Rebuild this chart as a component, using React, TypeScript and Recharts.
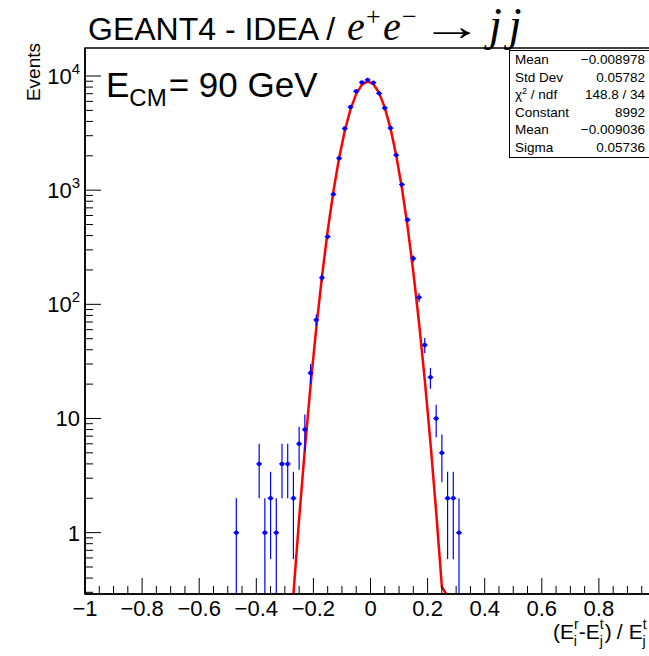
import { ComposedChart, Line, Scatter, ErrorBar, XAxis, YAxis, ReferenceArea } from 'recharts';

// histogram bins (centre, entries)
const binCenters = [
  -0.47, -0.39, -0.37, -0.35, -0.33, -0.31, -0.29, -0.27, -0.25, -0.23,
  -0.21, -0.19, -0.17, -0.15, -0.13, -0.11, -0.09, -0.07, -0.05, -0.03,
  -0.01, 0.01, 0.03, 0.05, 0.07, 0.09, 0.11, 0.13, 0.15, 0.17,
  0.19, 0.21, 0.23, 0.25, 0.27, 0.29, 0.31,
];
const counts = [
  1, 4, 1, 2, 1, 4, 4, 2, 6, 8,
  25, 73, 171, 392, 920, 1905, 3470, 5350, 7350, 8800,
  9250, 8750, 7050, 5250, 3500, 2030, 1120, 550, 252, 115,
  44, 23, 10, 5, 2, 2, 1,
];
const binHalfWidth = 0.01;

// gaussian fit curve, sampled along the red line
const fitX = [
  -0.29, -0.27, -0.25, -0.23, -0.21, -0.19, -0.17, -0.15, -0.13, -0.11,
  -0.09, -0.07, -0.05, -0.03, -0.01, 0.01, 0.03, 0.05, 0.07, 0.09,
  0.11, 0.13, 0.15, 0.17, 0.19, 0.21, 0.23, 0.25, 0.265,
];
const fitY = [
  0.055, 0.288, 1.32, 5.39, 19.4, 62.0, 175, 439, 973, 1910,
  3320, 5112, 6968, 8411, 8991, 8510, 7133, 5295, 3480, 2026,
  1044, 476, 192, 68.9, 21.9, 6.13, 1.52, 0.335, 0.29,
];

const xMajor = [-1, -0.8, -0.6, -0.4, -0.2, 0, 0.2, 0.4, 0.6, 0.8, 1];
// the label of 1 falls outside the canvas
const xLabels = ['\u22121', '\u22120.8', '\u22120.6', '\u22120.4', '\u22120.2', '0', '0.2', '0.4', '0.6', '0.8', ''];
const xMinor = [
  -0.95, -0.9, -0.85, -0.75, -0.7, -0.65, -0.55, -0.5, -0.45, -0.35, -0.3, -0.25,
  -0.15, -0.1, -0.05, 0.05, 0.1, 0.15, 0.25, 0.3, 0.35, 0.45, 0.5, 0.55,
  0.65, 0.7, 0.75, 0.85, 0.9, 0.95,
];
const yMajor = [1, 10, 100, 1000, 10000];
const yLabels = [['1', ''], ['10', ''], ['10', '2'], ['10', '3'], ['10', '4']];
const yMinor = [
  0.3, 0.4, 0.5, 0.6, 0.7, 0.8, 0.9,
  2, 3, 4, 5, 6, 7, 8, 9,
  20, 30, 40, 50, 60, 70, 80, 90,
  200, 300, 400, 500, 600, 700, 800, 900,
  2000, 3000, 4000, 5000, 6000, 7000, 8000, 9000,
];
const yDomain = [0.29, 17600];

const statsRows = [
  ['Mean', '\u22120.008978'],
  ['Std Dev', '0.05782'],
  ['chi', '148.8 / 34'],
  ['Constant', '8992'],
  ['Mean', '\u22120.009036'],
  ['Sigma', '0.05736'],
];

const FONT = '"Liberation Sans", Arial, Helvetica, sans-serif';
const SERIF = '"Liberation Serif", "Times New Roman", serif';
const BLUE = '#0000ff';

const points = binCenters.map((x, i) => {
  const n = counts[i];
  const e = Math.sqrt(n);
  return { x, y: n, ey: [Math.min(e, n - yDomain[0]), e], ex: binHalfWidth };
});
const fit = fitX.map((x, i) => ({ x, y: fitY[i] }));

function XTick(props: any) {
  const { x, y, payload } = props;
  const idx = xMajor.findIndex(m => Math.abs(m - payload.value) < 1e-9);
  const major = idx >= 0;
  return (
    <g>
      <line x1={x} x2={x} y1={y} y2={y - (major ? 16 : 8)} stroke="#000" strokeWidth={1} />
      {major && xLabels[idx] && (
        <text x={x} y={y + 22} textAnchor="middle" fontSize={22} fontFamily={FONT} fill="#000">
          {xLabels[idx]}
        </text>
      )}
    </g>
  );
}

function YTick(props: any) {
  const { x, y, payload } = props;
  const idx = yMajor.findIndex(m => Math.abs(m - payload.value) < 1e-9);
  const major = idx >= 0;
  return (
    <g>
      <line x1={x} x2={x + (major ? 16 : 8)} y1={y} y2={y} stroke="#000" strokeWidth={1} />
      {major && (
        <text x={x - 5} y={y + 8} textAnchor="end" fontSize={22} fontFamily={FONT} fill="#000">
          <tspan>{yLabels[idx][0]}</tspan>
          {yLabels[idx][1] && (
            <tspan dy={-10} fontSize={15}>{yLabels[idx][1]}</tspan>
          )}
        </text>
      )}
    </g>
  );
}

function Marker(props: any) {
  const { cx, cy } = props;
  return <circle cx={cx} cy={cy} r={2.2} fill={BLUE} />;
}

export default function App() {
  return (
    <div style={{ position: 'absolute', left: 0, top: 0, width: 649, height: 656, overflow: 'hidden', background: '#fff' }}>
      <ComposedChart
        width={661}
        height={656}
        margin={{ top: 48, right: 5, bottom: 32, left: 25 }}
      >
        <XAxis
          dataKey="x"
          type="number"
          domain={[-1, 1]}
          allowDataOverflow
          ticks={[...xMajor, ...xMinor].sort((a, b) => a - b)}
          interval={0}
          tick={<XTick />}
          tickLine={false}
          tickSize={0}
          tickMargin={0}
          axisLine={{ stroke: '#000', strokeWidth: 1.5 }}
          height={30}
        />
        <YAxis
          type="number"
          scale="log"
          domain={yDomain}
          allowDataOverflow
          ticks={[...yMinor, ...yMajor].sort((a, b) => a - b)}
          interval={0}
          tick={<YTick />}
          tickLine={false}
          tickSize={0}
          tickMargin={0}
          axisLine={{ stroke: '#000', strokeWidth: 1.5 }}
          width={60}
        />
        <ReferenceArea x1={-1} x2={1} y1={yDomain[0]} y2={yDomain[1]} fill="none" stroke="#000" strokeWidth={1.5} fillOpacity={0} ifOverflow="visible" />
        <Line
          data={fit}
          dataKey="y"
          type="linear"
          stroke="#ff0000"
          strokeWidth={2.5}
          dot={false}
          isAnimationActive={false}
        />
        <Scatter data={points} dataKey="y" shape={<Marker />} isAnimationActive={false}>
          <ErrorBar dataKey="ey" direction="y" width={0} stroke={BLUE} strokeWidth={1.2} isAnimationActive={false} />
          <ErrorBar dataKey="ex" direction="x" width={0} stroke={BLUE} strokeWidth={1.2} isAnimationActive={false} />
        </Scatter>
      </ComposedChart>

      <svg width={649} height={656} style={{ position: 'absolute', left: 0, top: 0, pointerEvents: 'none' }}>
        {/* title */}
        <text x={88} y={40} fontSize={32} fontFamily={FONT} fill="#000">
          GEANT4 - IDEA /
        </text>
        <text y={40} fontFamily={SERIF} fill="#000">
          <tspan x={347} fontStyle="italic" fontSize={40}>e</tspan>
          <tspan x={366} dy={-15} fontSize={26}>+</tspan>
          <tspan x={383} dy={15} fontStyle="italic" fontSize={40}>e</tspan>
          <tspan x={402} dy={-15} fontSize={26}>{'\u2212'}</tspan>
        </text>
        <g transform="translate(421 40) scale(1.55 1)">
          <text x={0} y={0} fontFamily={SERIF} fontSize={40} fill="#000">{'\u2192'}</text>
        </g>
        <text x={489} y={40} fontFamily={SERIF} fontStyle="italic" fontSize={46} letterSpacing={7} fill="#000">
          jj
        </text>

        {/* E_CM label */}
        <text x={106} y={97} fontSize={35} fontFamily={FONT} fill="#000">
          <tspan>E</tspan>
          <tspan fontSize={24} dy={9}>CM</tspan>
          <tspan dy={-9} dx={2}>= 90 GeV</tspan>
        </text>

        {/* y axis title */}
        <text x={40} y={43} transform="rotate(-90 40 43)" textAnchor="end" fontSize={19} fontFamily={FONT} fill="#000">
          Events
        </text>

        {/* x axis title */}
        <text x={553} y={639} fontSize={21} fontFamily={FONT} fill="#000">
          <tspan>(E</tspan>
          <tspan fontSize={14} dy={-10}>r</tspan>
          <tspan fontSize={14} dy={17} dx={-5}>i</tspan>
          <tspan dy={-7} dx={2}>-E</tspan>
          <tspan fontSize={14} dy={-10}>t</tspan>
          <tspan fontSize={14} dy={17} dx={-4}>j</tspan>
          <tspan dy={-7} dx={2}>)</tspan>
          <tspan dx={5}>/</tspan>
          <tspan dx={6}>E</tspan>
          <tspan fontSize={14} dy={-10}>t</tspan>
          <tspan fontSize={14} dy={17} dx={-4}>j</tspan>
        </text>

        {/* stats box */}
        <rect x={509.5} y={50.5} width={150} height={107} fill="#fff" stroke="#000" strokeWidth={1} />
        {statsRows.map((r, i) => (
          <g key={i}>
            <text x={515} y={64 + i * 17.6} fontSize={13.5} fontFamily={FONT} fill="#000">
              {r[0] === 'chi' ? (
                <>
                  <tspan>{'\u03c7'}</tspan>
                  <tspan fontSize={9} dy={-5}>2</tspan>
                  <tspan dy={5}> / ndf</tspan>
                </>
              ) : r[0]}
            </text>
            <text x={645} y={64 + i * 17.6} textAnchor="end" fontSize={13.5} fontFamily={FONT} fill="#000">
              {r[1]}
            </text>
          </g>
        ))}
      </svg>
    </div>
  );
}
